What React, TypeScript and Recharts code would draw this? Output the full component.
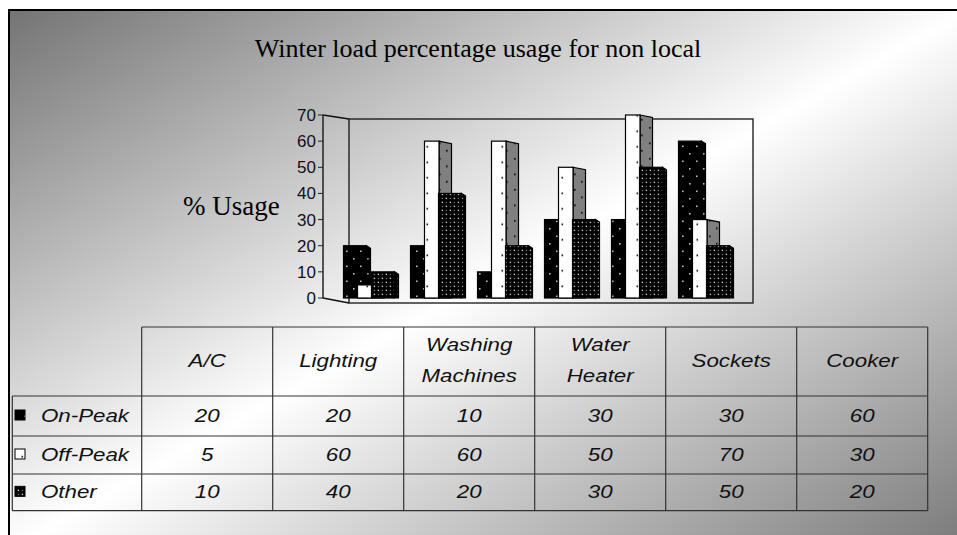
import React from 'react';
import { BarChart, Bar, XAxis, YAxis } from 'recharts';

// ---- data ----
const categories = ['A/C', 'Lighting', 'Washing Machines', 'Water Heater', 'Sockets', 'Cooker'];
const onPeak = [20, 20, 10, 30, 30, 60];
const offPeak = [5, 60, 60, 50, 70, 30];
const other = [10, 40, 20, 30, 50, 20];
const seriesNames = ['On-Peak', 'Off-Peak', 'Other'];
const yTicks = [0, 10, 20, 30, 40, 50, 60, 70];
const chartTitle = 'Winter load percentage usage for non local';
const yTitle = '% Usage';

const data = categories.map((name, i) => ({
  name,
  onPeak: onPeak[i],
  offPeak: offPeak[i],
  other: other[i],
}));

const seriesRows = [onPeak, offPeak, other];

// ---- layout ----
const W = 957;
const H = 535;
const SANS = '"Liberation Sans", Arial, Helvetica, sans-serif';
const SERIF = '"Liberation Serif", "Times New Roman", Times, serif';

// data table geometry
const tblLeft = 12.3;
const colStart = 141.7;
const colW = 131;
const headTop = 327;
const rowLines = [396, 436, 474, 510.7];
const textStretch = 1.2;

type ColumnProps = {
  x?: number;
  y?: number;
  width?: number;
  height?: number;
  front: string;
  side: string;
  frontW: number;
};

// Column drawn as a front face plus a receding side face
function Column3D({ x = 0, y = 0, width = 0, height = 0, front, side, frontW }: ColumnProps) {
  if (!height || height <= 0) return null;
  const bottom = y + height;
  const fw = Math.min(frontW, width);
  const sk = 2.5;
  return (
    <g>
      <path
        d={`M${x + fw},${y} L${x + width},${y + sk} L${x + width},${bottom} L${x + fw},${bottom} Z`}
        fill={side}
        stroke="#000"
        strokeWidth={1.2}
      />
      <rect x={x} y={y} width={fw} height={height} fill={front} stroke="#000" strokeWidth={1.2} />
    </g>
  );
}

function Patterns() {
  return (
    <defs>
      <linearGradient id="bgGrad" x1="0" y1="0" x2="1" y2="1">
        <stop offset="0" stopColor="#747474" />
        <stop offset="0.5" stopColor="#ffffff" />
        <stop offset="1" stopColor="#787878" />
      </linearGradient>
      <pattern id="patOn" patternUnits="userSpaceOnUse" width="14" height="15">
        <rect width="14" height="15" fill="#000" />
        <rect x="3" y="3" width="1.6" height="1.6" fill="#bbb" />
        <rect x="10" y="10.5" width="1.6" height="1.6" fill="#bbb" />
      </pattern>
      <pattern id="patOff" patternUnits="userSpaceOnUse" width="15" height="15.5">
        <rect width="15" height="15.5" fill="#fff" />
        <rect x="6.5" y="6.5" width="1.6" height="1.6" fill="#000" />
      </pattern>
      <pattern id="patOffSide" patternUnits="userSpaceOnUse" width="15" height="15.5">
        <rect width="15" height="15.5" fill="#808080" />
        <rect x="4" y="3" width="1.6" height="1.6" fill="#000" />
        <rect x="11" y="10.5" width="1.6" height="1.6" fill="#000" />
      </pattern>
      <pattern id="patOther" patternUnits="userSpaceOnUse" width="8" height="8">
        <rect width="8" height="8" fill="#000" />
        <rect x="1.7" y="1.7" width="1.4" height="1.4" fill="#c8c8c8" />
        <rect x="5.7" y="1.7" width="1.4" height="1.4" fill="#6a6a6a" />
        <rect x="1.7" y="5.7" width="1.4" height="1.4" fill="#6a6a6a" />
        <rect x="5.7" y="5.7" width="1.4" height="1.4" fill="#c8c8c8" />
      </pattern>
    </defs>
  );
}

const legendFills = ['url(#patOn)', 'url(#patOff)', 'url(#patOther)'];

function Backdrop() {
  const colEdges = categories.map((_, i) => colStart + i * colW).concat([colStart + categories.length * colW]);
  const tblRight = colEdges[colEdges.length - 1];
  const tblBottom = rowLines[rowLines.length - 1];
  const lineColor = '#333';
  return (
    <svg width={W} height={H} style={{ position: 'absolute', left: 0, top: 0 }}>
      <Patterns />
      <rect x={0} y={0} width={W} height={H} fill="#fff" />
      <rect x={9} y={10} width={960} height={540} fill="url(#bgGrad)" stroke="#000" strokeWidth={2} />

      {/* chart title */}
      <text x={478} y={57} textAnchor="middle" fontFamily={SERIF} fontSize={26} fill="#000">
        {chartTitle}
      </text>
      {/* value axis title */}
      <text x={183} y={215} fontFamily={SERIF} fontSize={27} fill="#000">
        {yTitle}
      </text>

      {/* back wall and floor edges */}
      <rect x={349} y={119} width={404} height={184} fill="none" stroke="#111" strokeWidth={1.3} />
      <line x1={323} y1={115} x2={349} y2={119} stroke="#111" strokeWidth={1.3} />
      <line x1={323} y1={298} x2={349} y2={303} stroke="#111" strokeWidth={1.3} />

      {/* data table */}
      <g stroke={lineColor} strokeWidth={1.2}>
        <line x1={colStart} y1={headTop} x2={tblRight} y2={headTop} />
        {rowLines.map((ly) => (
          <line key={ly} x1={tblLeft} y1={ly} x2={tblRight} y2={ly} />
        ))}
        <line x1={tblLeft} y1={rowLines[0]} x2={tblLeft} y2={tblBottom} />
        {colEdges.map((cx) => (
          <line key={cx} x1={cx} y1={headTop} x2={cx} y2={tblBottom} />
        ))}
      </g>
      {categories.map((cat, i) => {
        const cx = colStart + (i + 0.5) * colW;
        const lines = cat.split(' ');
        const cy = (headTop + rowLines[0]) / 2;
        return lines.map((ln, k) => {
          const ty = lines.length === 1 ? cy - 1.5 : cy - 17 + k * 31;
          return (
            <text
              key={cat + k}
              transform={`translate(${cx},${ty}) scale(${textStretch},1)`}
              textAnchor="middle"
              dominantBaseline="central"
              fontFamily={SANS}
              fontStyle="italic"
              fontSize={18.6}
              fill="#111"
            >
              {ln}
            </text>
          );
        });
      })}
      {seriesRows.map((vals, r) => {
        const cy = (rowLines[r] + rowLines[r + 1]) / 2 - 1;
        return (
          <g key={seriesNames[r]}>
            <rect x={15} y={cy - 5} width={10} height={10} fill={legendFills[r]} stroke="#000" strokeWidth={1} />
            <text
              transform={`translate(41,${cy}) scale(${textStretch},1)`}
              dominantBaseline="central"
              fontFamily={SANS}
              fontStyle="italic"
              fontSize={18.6}
              fill="#111"
            >
              {seriesNames[r]}
            </text>
            {vals.map((v, i) => (
              <text
                key={i}
                transform={`translate(${colStart + (i + 0.5) * colW},${cy}) scale(${textStretch},1)`}
                textAnchor="middle"
                dominantBaseline="central"
                fontFamily={SANS}
                fontStyle="italic"
                fontSize={18.6}
                fill="#111"
              >
                {v}
              </text>
            ))}
          </g>
        );
      })}
    </svg>
  );
}

export default function App() {
  return (
    <div style={{ position: 'absolute', left: 0, top: 0, width: W, height: H, overflow: 'hidden' }}>
      <Backdrop />
      <div style={{ position: 'absolute', left: 0, top: 0 }}>
        <BarChart
          width={W}
          height={H}
          data={data}
          margin={{ top: 115, right: 204, bottom: 237, left: 283 }}
          barGap={-13}
          barSize={27}
        >
          <Patterns />
          <XAxis dataKey="name" hide padding={{ left: 14.5, right: 13.5 }} />
          <YAxis
            width={40}
            domain={[0, 70]}
            ticks={yTicks}
            interval={0}
            tickSize={5}
            tickMargin={2}
            axisLine={{ stroke: '#222', strokeWidth: 1.5 }}
            tickLine={{ stroke: '#222', strokeWidth: 1 }}
            tick={{ fill: '#111', fontSize: 17, fontFamily: SANS }}
          />
          <Bar
            dataKey="onPeak"
            name={seriesNames[0]}
            isAnimationActive={false}
            shape={(p: any) => <Column3D {...p} front="url(#patOn)" side="url(#patOn)" frontW={23} />}
          />
          <Bar
            dataKey="offPeak"
            name={seriesNames[1]}
            isAnimationActive={false}
            shape={(p: any) => <Column3D {...p} front="url(#patOff)" side="url(#patOffSide)" frontW={14.5} />}
          />
          <Bar
            dataKey="other"
            name={seriesNames[2]}
            isAnimationActive={false}
            shape={(p: any) => <Column3D {...p} front="url(#patOther)" side="url(#patOther)" frontW={23} />}
          />
        </BarChart>
      </div>
    </div>
  );
}
